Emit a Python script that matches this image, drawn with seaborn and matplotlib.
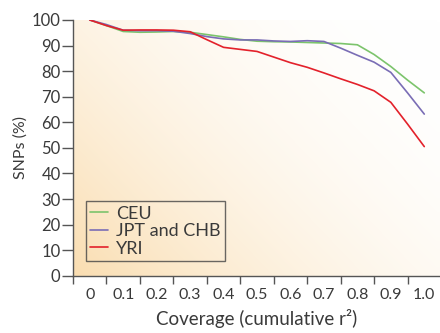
import numpy as np
import pandas as pd
import matplotlib
matplotlib.use("Agg")
import matplotlib.pyplot as plt
import seaborn as sns


# =========================================
# Data
# =========================================

coverage = [0.0, 0.05, 0.1, 0.15, 0.2, 0.25, 0.3, 0.35, 0.4, 0.45, 0.5,
            0.55, 0.6, 0.65, 0.7, 0.75, 0.8, 0.85, 0.9, 0.95, 1.0]

ceu = [100, 97.8, 95.5, 95.2, 95.3, 95.5, 95.2, 94.3, 93.4, 92.4, 91.7,
       91.5, 91.4, 91.2, 91.0, 90.8, 90.3, 86.5, 81.8, 76.5, 71.5]

jpt_chb = [100, 98.2, 96.0, 95.8, 95.8, 95.6, 94.7, 93.5, 92.6, 92.2, 92.2,
           91.8, 91.6, 91.9, 91.6, 89.0, 86.2, 83.5, 79.5, 71.5, 63.2]

yri = [100, 97.8, 96.0, 96.1, 96.1, 96.0, 95.4, 92.3, 89.3, 88.5, 87.7,
       85.5, 83.3, 81.5, 79.3, 77.0, 74.8, 72.3, 67.8, 59.3, 50.5]

series_names = ["CEU", "JPT and CHB", "YRI"]
series_colors = ["#7cc46c", "#7a6db5", "#e3212b"]

tick_values = [0, 0.1, 0.2, 0.3, 0.4, 0.5, 0.6, 0.7, 0.8, 0.9, 1.0]
tick_labels = ["0", "0.1", "0.2", "0.3", "0.4", "0.5",
               "0.6", "0.7", "0.8", "0.9", "1.0"]
y_ticks = [0, 10, 20, 30, 40, 50, 60, 70, 80, 90, 100]

df = pd.concat([
    pd.DataFrame({"coverage": coverage, "snps": vals, "population": name})
    for name, vals in zip(series_names, [ceu, jpt_chb, yri])
])


# =========================================
# Figure
# =========================================

sns.set_style("ticks")
plt.rcParams["font.family"] = ["Lato", "DejaVu Sans"]

text_color = "#3a3a3a"
spine_color = "#555555"

fig = plt.figure(figsize=(4.4, 3.33), dpi=100)
ax = fig.add_axes([0.166, 0.172, 0.834, 0.768])

# warm gradient background, strongest at the bottom-left corner
gx, gy = np.meshgrid(np.linspace(0, 1, 60), np.linspace(1, 0, 60))
t = (0.6 * (1 - gx) + 0.4 * (1 - gy)) ** 2
white = np.array([255, 255, 255]) / 255.0
warm = np.array([250, 222, 178]) / 255.0
grad = white + t[..., None] * (warm - white)
ax.imshow(grad, extent=[0, 1, 0, 1], transform=ax.transAxes,
          interpolation="bilinear", aspect="auto", zorder=0)

sns.lineplot(
    data=df,
    x="coverage",
    y="snps",
    hue="population",
    palette=dict(zip(series_names, series_colors)),
    linewidth=1.2,
    ax=ax,
    legend=False,
    zorder=2
)

ax.set_xlim(-0.05, 1.047)
ax.set_ylim(0, 100)

# labels between ticks: labels on majors, tick marks on minors
ax.set_xticks(tick_values)
ax.set_xticklabels(tick_labels)
ax.set_xticks([v - 0.05 for v in tick_values], minor=True)
ax.tick_params(axis="x", which="major", length=0, pad=9,
               labelsize=11.5, labelcolor=text_color)
ax.tick_params(axis="x", which="minor", length=6, width=1,
               color=spine_color, direction="out")

ax.set_yticks(y_ticks)
ax.tick_params(axis="y", length=8, width=1, color=spine_color,
               labelsize=12, labelcolor=text_color, pad=1)

for side in ["top", "right"]:
    ax.spines[side].set_visible(False)
for side in ["left", "bottom"]:
    ax.spines[side].set_color(spine_color)
    ax.spines[side].set_linewidth(1)

ax.set_xlabel("Coverage (cumulative r²)", fontsize=13.5,
              color=text_color, labelpad=5)
ax.set_ylabel("SNPs (%)", fontsize=11.5, color=text_color, labelpad=3)

handles = [plt.Line2D([], [], color=c, linewidth=1.2) for c in series_colors]
leg = ax.legend(
    handles, series_names,
    loc="lower left",
    bbox_to_anchor=(0.035, 0.057),
    borderaxespad=0,
    fontsize=13,
    frameon=True,
    fancybox=False,
    handlelength=1.0,
    handletextpad=0.4,
    labelspacing=0.08,
    borderpad=0.25
)
leg.get_frame().set_edgecolor("#444444")
leg.get_frame().set_facecolor("none")
leg.get_frame().set_linewidth(1)
for t in leg.get_texts():
    t.set_color(text_color)

plt.savefig("out.png", dpi=100)
plt.close()
